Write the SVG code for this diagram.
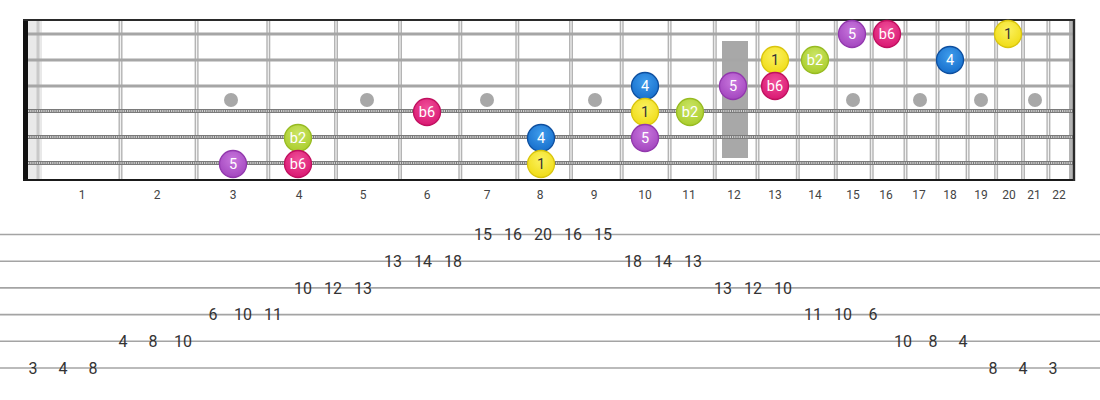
<svg xmlns="http://www.w3.org/2000/svg" width="1100" height="400" viewBox="0 0 1100 400">
<defs>
<radialGradient id="gPurple" cx="50%" cy="35%" r="65%"><stop offset="0" stop-color="#c877dd"/><stop offset="1" stop-color="#a346bf"/></radialGradient>
<radialGradient id="gPink" cx="50%" cy="35%" r="65%"><stop offset="0" stop-color="#f0509a"/><stop offset="1" stop-color="#d91872"/></radialGradient>
<radialGradient id="gGreen" cx="50%" cy="35%" r="65%"><stop offset="0" stop-color="#cbe566"/><stop offset="1" stop-color="#aacd2c"/></radialGradient>
<radialGradient id="gBlue" cx="50%" cy="35%" r="65%"><stop offset="0" stop-color="#3f9cec"/><stop offset="1" stop-color="#176fcc"/></radialGradient>
<radialGradient id="gYellow" cx="50%" cy="35%" r="65%"><stop offset="0" stop-color="#fbf160"/><stop offset="1" stop-color="#f0dc16"/></radialGradient>
</defs>
<style>
.fret{stroke:#b4b4b4;stroke-width:4}
.fretc{stroke:#f2f2f2;stroke-width:1.2}
.plain{stroke:#a6a6a6;stroke-width:2.8}
.wound{stroke:#7a7a7a;stroke-width:4.2}
.woundc{stroke:#cfcfcf;stroke-width:2;stroke-dasharray:1.2 1}
.dot{fill:#a8a8a8}
.fnum{font-family:Roboto,"Liberation Sans",sans-serif;font-size:12px;fill:#444;text-anchor:middle}
.tab{stroke:#a4a4a4;stroke-width:1.6}
.tnum{font-family:Roboto,"Liberation Sans",sans-serif;font-size:16px;fill:#333;text-anchor:middle}
.nt{font-family:Roboto,"Liberation Sans",sans-serif;font-size:14.5px;fill:#fff;text-anchor:middle}
.nt.dark{fill:#333}
.purple{fill:url(#gPurple);stroke:#9238ad;stroke-width:1.3}
.pink{fill:url(#gPink);stroke:#c0105f;stroke-width:1.3}
.green{fill:url(#gGreen);stroke:#97bb22;stroke-width:1.3}
.blue{fill:url(#gBlue);stroke:#0e4f9f;stroke-width:1.3}
.yellow{fill:url(#gYellow);stroke:#d9c50e;stroke-width:1.3}
</style>
<rect width="1100" height="400" fill="#fff"/>
<g id="fretboard">
<rect x="28" y="20" width="14" height="160" fill="#e9e9e9"/>
<rect x="36.5" y="20" width="3" height="160" fill="#c9c9c9"/>
<g id="markers">
<circle class="dot" cx="231" cy="100" r="7"/>
<circle class="dot" cx="367" cy="100" r="7"/>
<circle class="dot" cx="487" cy="100" r="7"/>
<circle class="dot" cx="595" cy="100" r="7"/>
<rect x="722" y="41" width="26" height="117" fill="#a8a8a8"/>
<circle class="dot" cx="853" cy="100" r="7"/>
<circle class="dot" cx="920" cy="100" r="7"/>
<circle class="dot" cx="981" cy="100" r="7"/>
<circle class="dot" cx="1035" cy="100" r="7"/>
</g>
<g id="frets">
<line class="fret" x1="120.5" y1="20" x2="120.5" y2="180"/>
<line class="fret" x1="196.6" y1="20" x2="196.6" y2="180"/>
<line class="fret" x1="268.3" y1="20" x2="268.3" y2="180"/>
<line class="fret" x1="336" y1="20" x2="336" y2="180"/>
<line class="fret" x1="400" y1="20" x2="400" y2="180"/>
<line class="fret" x1="460.3" y1="20" x2="460.3" y2="180"/>
<line class="fret" x1="517.3" y1="20" x2="517.3" y2="180"/>
<line class="fret" x1="571" y1="20" x2="571" y2="180"/>
<line class="fret" x1="621.7" y1="20" x2="621.7" y2="180"/>
<line class="fret" x1="669.6" y1="20" x2="669.6" y2="180"/>
<line class="fret" x1="714.8" y1="20" x2="714.8" y2="180"/>
<line class="fret" x1="757.5" y1="20" x2="757.5" y2="180"/>
<line class="fret" x1="797.8" y1="20" x2="797.8" y2="180"/>
<line class="fret" x1="835.8" y1="20" x2="835.8" y2="180"/>
<line class="fret" x1="871.7" y1="20" x2="871.7" y2="180"/>
<line class="fret" x1="905.5" y1="20" x2="905.5" y2="180"/>
<line class="fret" x1="937.5" y1="20" x2="937.5" y2="180"/>
<line class="fret" x1="967.6" y1="20" x2="967.6" y2="180"/>
<line class="fret" x1="996.1" y1="20" x2="996.1" y2="180"/>
<line class="fret" x1="1023" y1="20" x2="1023" y2="180"/>
<line class="fret" x1="1048.4" y1="20" x2="1048.4" y2="180"/>
<line class="fret" x1="1071" y1="20" x2="1071" y2="180"/>
<line class="fretc" x1="120.5" y1="20" x2="120.5" y2="180"/>
<line class="fretc" x1="196.6" y1="20" x2="196.6" y2="180"/>
<line class="fretc" x1="268.3" y1="20" x2="268.3" y2="180"/>
<line class="fretc" x1="336" y1="20" x2="336" y2="180"/>
<line class="fretc" x1="400" y1="20" x2="400" y2="180"/>
<line class="fretc" x1="460.3" y1="20" x2="460.3" y2="180"/>
<line class="fretc" x1="517.3" y1="20" x2="517.3" y2="180"/>
<line class="fretc" x1="571" y1="20" x2="571" y2="180"/>
<line class="fretc" x1="621.7" y1="20" x2="621.7" y2="180"/>
<line class="fretc" x1="669.6" y1="20" x2="669.6" y2="180"/>
<line class="fretc" x1="714.8" y1="20" x2="714.8" y2="180"/>
<line class="fretc" x1="757.5" y1="20" x2="757.5" y2="180"/>
<line class="fretc" x1="797.8" y1="20" x2="797.8" y2="180"/>
<line class="fretc" x1="835.8" y1="20" x2="835.8" y2="180"/>
<line class="fretc" x1="871.7" y1="20" x2="871.7" y2="180"/>
<line class="fretc" x1="905.5" y1="20" x2="905.5" y2="180"/>
<line class="fretc" x1="937.5" y1="20" x2="937.5" y2="180"/>
<line class="fretc" x1="967.6" y1="20" x2="967.6" y2="180"/>
<line class="fretc" x1="996.1" y1="20" x2="996.1" y2="180"/>
<line class="fretc" x1="1023" y1="20" x2="1023" y2="180"/>
<line class="fretc" x1="1048.4" y1="20" x2="1048.4" y2="180"/>
</g>
<g id="strings">
<line class="plain" x1="28" y1="34" x2="1073" y2="34"/>
<line class="plain" x1="28" y1="60" x2="1073" y2="60"/>
<line class="plain" x1="28" y1="86" x2="1073" y2="86"/>
<line class="wound" x1="28" y1="111" x2="1073" y2="111"/>
<line class="woundc" x1="28" y1="111" x2="1073" y2="111"/>
<line class="wound" x1="28" y1="137" x2="1073" y2="137"/>
<line class="woundc" x1="28" y1="137" x2="1073" y2="137"/>
<line class="wound" x1="28" y1="163" x2="1073" y2="163"/>
<line class="woundc" x1="28" y1="163" x2="1073" y2="163"/>
</g>
<rect x="23" y="19" width="5" height="162" fill="#111"/>
<line x1="23" y1="20" x2="1075" y2="20" stroke="#2a2a2a" stroke-width="2"/>
<line x1="23" y1="180" x2="1075" y2="180" stroke="#1a1a1a" stroke-width="2"/>
<line x1="1074" y1="19" x2="1074" y2="181" stroke="#2a2a2a" stroke-width="2.4"/>
</g>
<g id="notes">
<g id="n-s1-f15"><circle class="purple" cx="852" cy="34" r="13.5"/><text class="nt" x="852" y="39">5</text></g>
<g id="n-s1-f16"><circle class="pink" cx="887" cy="34" r="13.5"/><text class="nt" x="887" y="39">b6</text></g>
<g id="n-s1-f20"><circle class="yellow" cx="1008" cy="34" r="13.5"/><text class="nt dark" x="1008" y="39">1</text></g>
<g id="n-s2-f13"><circle class="yellow" cx="775" cy="60" r="13.5"/><text class="nt dark" x="775" y="65">1</text></g>
<g id="n-s2-f14"><circle class="green" cx="815" cy="60" r="13.5"/><text class="nt" x="815" y="65">b2</text></g>
<g id="n-s2-f18"><circle class="blue" cx="950" cy="60" r="13.5"/><text class="nt" x="950" y="65">4</text></g>
<g id="n-s3-f10"><circle class="blue" cx="645" cy="86" r="13.5"/><text class="nt" x="645" y="91">4</text></g>
<g id="n-s3-f12"><circle class="purple" cx="733" cy="86" r="13.5"/><text class="nt" x="733" y="91">5</text></g>
<g id="n-s3-f13"><circle class="pink" cx="775" cy="86" r="13.5"/><text class="nt" x="775" y="91">b6</text></g>
<g id="n-s4-f6"><circle class="pink" cx="427" cy="112" r="13.5"/><text class="nt" x="427" y="117">b6</text></g>
<g id="n-s4-f10"><circle class="yellow" cx="645" cy="112" r="13.5"/><text class="nt dark" x="645" y="117">1</text></g>
<g id="n-s4-f11"><circle class="green" cx="690" cy="112" r="13.5"/><text class="nt" x="690" y="117">b2</text></g>
<g id="n-s5-f4"><circle class="green" cx="298" cy="138" r="13.5"/><text class="nt" x="298" y="143">b2</text></g>
<g id="n-s5-f8"><circle class="blue" cx="541" cy="138" r="13.5"/><text class="nt" x="541" y="143">4</text></g>
<g id="n-s5-f10"><circle class="purple" cx="645" cy="138" r="13.5"/><text class="nt" x="645" y="143">5</text></g>
<g id="n-s6-f3"><circle class="purple" cx="233" cy="164" r="13.5"/><text class="nt" x="233" y="169">5</text></g>
<g id="n-s6-f4"><circle class="pink" cx="298" cy="164" r="13.5"/><text class="nt" x="298" y="169">b6</text></g>
<g id="n-s6-f8"><circle class="yellow" cx="541" cy="164" r="13.5"/><text class="nt dark" x="541" y="169">1</text></g>
</g>
<g id="fret-numbers">
<text class="fnum" x="82" y="199">1</text>
<text class="fnum" x="157" y="199">2</text>
<text class="fnum" x="233" y="199">3</text>
<text class="fnum" x="299" y="199">4</text>
<text class="fnum" x="363" y="199">5</text>
<text class="fnum" x="427" y="199">6</text>
<text class="fnum" x="487" y="199">7</text>
<text class="fnum" x="540" y="199">8</text>
<text class="fnum" x="594" y="199">9</text>
<text class="fnum" x="645" y="199">10</text>
<text class="fnum" x="689" y="199">11</text>
<text class="fnum" x="734" y="199">12</text>
<text class="fnum" x="775" y="199">13</text>
<text class="fnum" x="815" y="199">14</text>
<text class="fnum" x="853" y="199">15</text>
<text class="fnum" x="886" y="199">16</text>
<text class="fnum" x="919" y="199">17</text>
<text class="fnum" x="950" y="199">18</text>
<text class="fnum" x="981" y="199">19</text>
<text class="fnum" x="1009" y="199">20</text>
<text class="fnum" x="1034" y="199">21</text>
<text class="fnum" x="1059" y="199">22</text>
</g>
<g id="tab">
<line class="tab" x1="0" y1="234.5" x2="1100" y2="234.5"/>
<line class="tab" x1="0" y1="261.2" x2="1100" y2="261.2"/>
<line class="tab" x1="0" y1="287.9" x2="1100" y2="287.9"/>
<line class="tab" x1="0" y1="314.6" x2="1100" y2="314.6"/>
<line class="tab" x1="0" y1="341.3" x2="1100" y2="341.3"/>
<line class="tab" x1="0" y1="368" x2="1100" y2="368"/>
<text class="tnum" x="33" y="373.8">3</text>
<text class="tnum" x="63" y="373.8">4</text>
<text class="tnum" x="93" y="373.8">8</text>
<text class="tnum" x="123" y="347.1">4</text>
<text class="tnum" x="153" y="347.1">8</text>
<text class="tnum" x="183" y="347.1">10</text>
<text class="tnum" x="213" y="320.4">6</text>
<text class="tnum" x="243" y="320.4">10</text>
<text class="tnum" x="273" y="320.4">11</text>
<text class="tnum" x="303" y="293.7">10</text>
<text class="tnum" x="333" y="293.7">12</text>
<text class="tnum" x="363" y="293.7">13</text>
<text class="tnum" x="393" y="267">13</text>
<text class="tnum" x="423" y="267">14</text>
<text class="tnum" x="453" y="267">18</text>
<text class="tnum" x="483" y="240.3">15</text>
<text class="tnum" x="513" y="240.3">16</text>
<text class="tnum" x="543" y="240.3">20</text>
<text class="tnum" x="573" y="240.3">16</text>
<text class="tnum" x="603" y="240.3">15</text>
<text class="tnum" x="633" y="267">18</text>
<text class="tnum" x="663" y="267">14</text>
<text class="tnum" x="693" y="267">13</text>
<text class="tnum" x="723" y="293.7">13</text>
<text class="tnum" x="753" y="293.7">12</text>
<text class="tnum" x="783" y="293.7">10</text>
<text class="tnum" x="813" y="320.4">11</text>
<text class="tnum" x="843" y="320.4">10</text>
<text class="tnum" x="873" y="320.4">6</text>
<text class="tnum" x="903" y="347.1">10</text>
<text class="tnum" x="933" y="347.1">8</text>
<text class="tnum" x="963" y="347.1">4</text>
<text class="tnum" x="993" y="373.8">8</text>
<text class="tnum" x="1023" y="373.8">4</text>
<text class="tnum" x="1053" y="373.8">3</text>
</g>
</svg>
